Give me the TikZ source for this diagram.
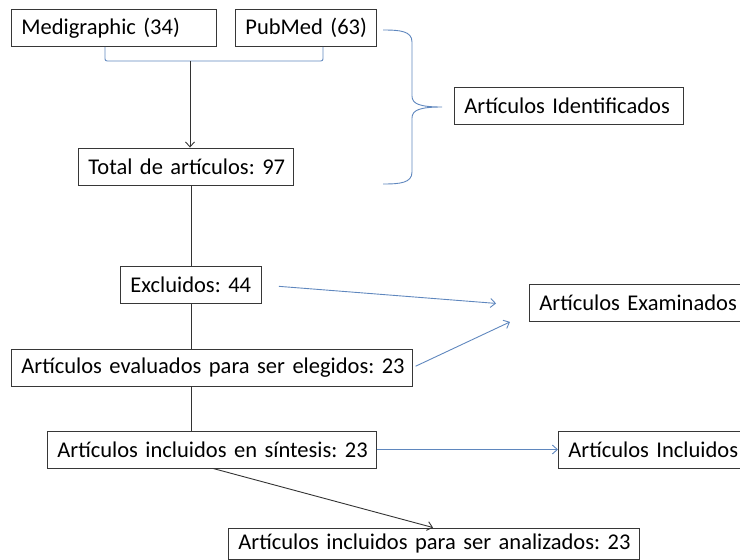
\documentclass[tikz,border=0pt]{standalone}
\usepackage{fontspec}
\setmainfont[WordSpace=0.8]{Carlito}
\usetikzlibrary{arrows.meta,calc}
\definecolor{bl}{RGB}{95,135,190}
\definecolor{bd}{RGB}{55,55,55}
\frenchspacing
\begin{document}
\frenchspacing
\begin{tikzpicture}[x=1pt,y=-1pt,
  box/.style={draw=bd, line width=0.9pt, inner xsep=10pt, inner ysep=0pt,
    minimum height=37pt, align=left, anchor=west,
    font=\fontsize{22.5}{27}\selectfont},
  conn/.style={draw=black!80, line width=0.9pt},
  bconn/.style={draw=bl, line width=0.9pt},
  tip/.style={-{Straight Barb[length=5pt,width=9pt]}}]
\useasboundingbox (0,0) rectangle (740,560);
\node[box, text width=185pt] (med) at (11,28) {\mbox{Medigraphic (34)}};
\node[box, text width=121pt] (pub) at (235,28) {\mbox{PubMed (63)}};
\node[box, text width=195pt] (tot) at (78,166.5) {\mbox{Total de artículos: 97}};
\node[box, text width=209pt] (ident) at (454,105.5) {\mbox{Artículos Identificados}};
\node[box, text width=121pt] (excl) at (120,285) {\mbox{Excluidos: 44}};
\node[box, text width=381pt] (eval) at (11,367.5) {\mbox{Artículos evaluados para ser elegidos: 23}};
\node[box, text width=200pt] (exam) at (529,303) {\mbox{Artículos Examinados}};
\node[box, text width=309pt] (inc) at (47,449.5) {\mbox{Artículos incluidos en síntesis: 23}};
\node[box, text width=170pt] (incr) at (558,449.5) {\mbox{Artículos Incluidos}};
\node[box, text width=391pt, minimum height=31pt] (anal) at (228,543.5) {\mbox{Artículos incluidos para ser analizados: 23}};
% bracket joining the two sources
\draw[bconn, rounded corners=2pt] ($(med.south west)+(94,0)$) -- ++(0,14) -| ($(pub.south west)+(88,0)$);
\coordinate (join) at ($(med.south west)+(179,14)$);
\draw[conn, tip] (join) -- (join |- tot.north);
% main vertical line
\draw[conn] (excl.north |- tot.south) -- (excl.north);
\draw[conn] (excl.south) -- (excl.south |- eval.north);
\draw[conn] (excl.south |- eval.south) -- (excl.south |- inc.north);
% brace
\draw[bconn] (383,30) .. controls (400,30) and (412,31) .. (412,42) -- (412,96)
  .. controls (412,104) and (420,107) .. (442,107)
  .. controls (420,107) and (412,110) .. (412,118) -- (412,172)
  .. controls (412,183) and (400,184) .. (383,184);
% blue arrows
\draw[bconn, tip, shorten <=17pt, shorten >=33pt] (excl.east) -- ($(exam.west)+(0,3)$);
\draw[bconn, tip, shorten <=3pt, shorten >=21pt] (eval.east) -- ($(exam.west)+(0,10)$);
\draw[bconn, tip] (inc.east) -- (incr.west);
% diagonal arrow
\draw[conn, tip] ($(inc.south west)+(166,0)$) -- ($(anal.north west)+(205,0)$);
\end{tikzpicture}
\end{document}
